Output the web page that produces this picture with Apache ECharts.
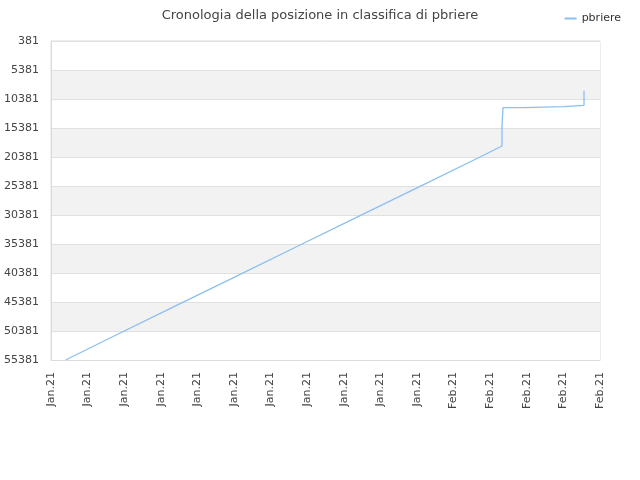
<!DOCTYPE html>
<html><head><meta charset="utf-8">
<script src="https://cdn.jsdelivr.net/npm/echarts@6/dist/echarts.min.js"></script>
<style>html,body{margin:0;padding:0;background:#fff}#c{width:640px;height:480px}</style>
</head><body><div id="c"></div>
<script>
// days since Jan 1 2021 (fractional)
const days = [1.2, 5, 10, 15, 20, 25, 30, 35, 36.97, 36.97, 37.05, 37.05, 38.69, 38.69, 42.05, 42.05, 43.69, 43.69];
const ranks = [55381, 51420, 46275, 41130, 35985, 30840, 25695, 20550, 18480, 14900, 14950, 11880, 11880, 11700, 11700, 11470, 11470, 8950];
const seriesName = 'pbriere';
const titleText = 'Cronologia della posizione in classifica di pbriere';
const yTicks = { min: 381, max: 55381, step: 5000 };
const xTicks = { min: 0, max: 45, step: 3, febStart: 31 };

const chart = echarts.init(document.getElementById('c'));
chart.setOption({
  animation: false,
  title: { text: titleText, left: 'center', top: 4,
    textStyle: { fontFamily: 'DejaVu Sans', fontSize: 13, fontWeight: 'normal', color: '#444' } },
  legend: { right: 14, top: 8, itemWidth: 12, itemHeight: 2, icon: 'rect', itemGap: 6,
    textStyle: { fontFamily: 'DejaVu Sans', fontSize: 11, color: '#333' },
    data: [seriesName] },
  grid: { left: 51, right: 40, top: 41, bottom: 120, show: true, borderColor: '#dcdcdc', borderWidth: 1, backgroundColor: 'transparent' },
  xAxis: { type: 'value', min: xTicks.min, max: xTicks.max, interval: xTicks.step,
    axisLine: { show: true, lineStyle: { color: '#dcdcdc' } }, axisTick: { show: false },
    splitLine: { show: false },
    axisLabel: { rotate: 90, fontFamily: 'DejaVu Sans', fontSize: 11, color: '#444', margin: 12,
      formatter: v => v < xTicks.febStart ? 'Jan.21' : 'Feb.21' } },
  yAxis: { type: 'value', inverse: true, min: yTicks.min, max: yTicks.max, interval: yTicks.step,
    axisLine: { show: true, lineStyle: { color: '#dcdcdc' } }, axisTick: { show: false },
    splitLine: { show: true, lineStyle: { color: '#e0e0e0' } },
    splitArea: { show: true, areaStyle: { color: ['#ffffff', '#f2f2f2'] } },
    axisLabel: { fontFamily: 'DejaVu Sans', fontSize: 11, color: '#444', margin: 12,
      formatter: v => String(v) } },
  series: [{ name: seriesName, type: 'line', showSymbol: false, symbol: 'none',
    lineStyle: { width: 1.3, color: '#8bbff2' }, itemStyle: { color: '#8bbff2' },
    data: days.map((d, i) => [d, ranks[i]]) }]
});
</script></body></html>
